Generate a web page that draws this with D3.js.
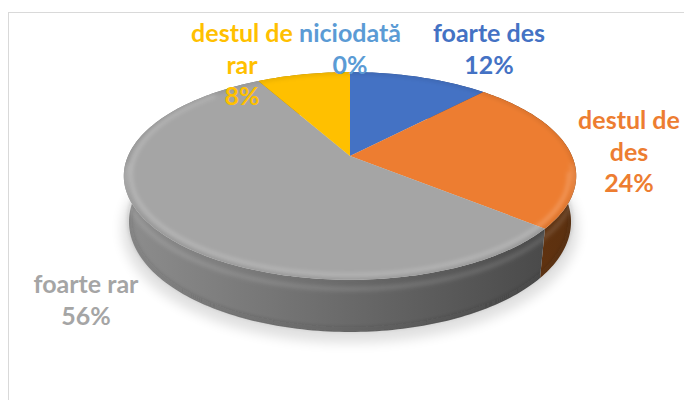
<!DOCTYPE html>
<html>
<head>
<meta charset="utf-8">
<script src="https://cdn.jsdelivr.net/npm/d3@7"></script>
<style>
  body { margin: 0; background: #fff; }
  svg { display: block; }
  .label { font-family: Lato, "Open Sans", sans-serif; font-weight: bold; font-size: 25px; }
</style>
</head>
<body>
<div id="chart"></div>
<script>
// data
const categories = ['foarte des', 'destul de des', 'foarte rar', 'destul de rar', 'niciodată']
const values = [12, 24, 56, 8, 0]
const colors = ['#4472c4', '#ed7d31', '#a5a5a5', '#ffc000', '#5b9bd5']
const sideColors = [['#2f5597', '#22407a'], ['#8f4716', '#5b300f'], ['#8e8e8e', '#444444'], ['#b38700', '#8a6800'], ['#3f73a8', '#2e5680']]
// how Excel wrapped the category names
const labelLines = [['foarte des'], ['destul de', 'des'], ['foarte rar'], ['destul de', 'rar'], ['niciodată']]

// label anchors (centre x, first baseline)
const labelPos = [[489, 42], [629, 129], [86, 293], [242, 42], [350, 42]]

const width = 684, height = 400

// 3D view: perspective projection of a unit disc
const view = {cx: 350, cy: 156, A: 222, B: 100, C: 198, K: 0.192, S: 0.0968, H: 0.233}

function project(a, r, y) {
    let X = r * Math.sin(a), Z = -r * Math.cos(a)
    let den = 1 - view.S * y - view.K * Z
    return [view.cx + view.A * X / den, view.cy + (view.B * Z - view.C * y) / den]
}

function arcPts(a0, a1, r, y) {
    let n = Math.max(2, Math.ceil((a1 - a0) / 0.02))
    return d3.range(n + 1).map(i => project(a0 + (a1 - a0) * i / n, r, y))
}

const svg = d3.select('#chart').append('svg')
    .attr('width', width)
    .attr('height', height)

// chart frame
svg.append('rect')
    .attr('x', 8.5).attr('y', 12.5)
    .attr('width', 720).attr('height', 420)
    .attr('fill', 'none')
    .attr('stroke', '#d9d9d9')

const defs = svg.append('defs')
defs.append('filter').attr('id', 'blur6')
    .attr('x', '-20%').attr('y', '-20%').attr('width', '140%').attr('height', '140%')
    .append('feGaussianBlur').attr('stdDeviation', 6)
defs.append('filter').attr('id', 'blur2')
    .attr('x', '-10%').attr('y', '-10%').attr('width', '120%').attr('height', '120%')
    .append('feGaussianBlur').attr('stdDeviation', 2.2)

sideColors.forEach((c, i) => {
    let g = defs.append('linearGradient')
        .attr('id', 'side' + i)
        .attr('gradientUnits', 'userSpaceOnUse')
        .attr('x1', 120).attr('x2', 580).attr('y1', 0).attr('y2', 0)
    g.append('stop').attr('offset', 0).attr('stop-color', c[0])
    g.append('stop').attr('offset', 0.45).attr('stop-color', d3.interpolateRgb(c[0], c[1])(0.45))
    g.append('stop').attr('offset', 1).attr('stop-color', c[1])
})

const pie = d3.pie().sort(null).value(d => d)
const arcs = pie(values)
const total = d3.sum(values)
const line = d3.line()

const g = svg.append('g')

// soft shadow under the pie
g.append('path')
    .attr('d', line(arcPts(0, 2 * Math.PI, 1.03, -view.H)) + 'Z')
    .attr('transform', 'translate(0,6)')
    .attr('fill', '#000')
    .attr('opacity', 0.12)
    .attr('filter', 'url(#blur6)')

// outer walls
arcs.forEach((d, i) => {
    if (d.endAngle - d.startAngle <= 0) return
    let top = arcPts(d.startAngle, d.endAngle, 1, 0)
    let bottom = arcPts(d.startAngle, d.endAngle, 1, -view.H).reverse()
    g.append('path')
        .attr('d', line(top.concat(bottom)) + 'Z')
        .attr('fill', `url(#side${i})`)
})

// dark line at the bottom edge of the wall
g.append('path')
    .attr('d', line(arcPts(Math.PI / 2, 3 * Math.PI / 2, 0.995, -view.H + 0.01)))
    .attr('fill', 'none')
    .attr('stroke', '#333')
    .attr('stroke-opacity', 0.3)
    .attr('stroke-width', 2)
    .attr('filter', 'url(#blur2)')

// top faces
arcs.forEach((d, i) => {
    if (d.endAngle - d.startAngle <= 0) return
    let pts = [project(0, 0, 0)].concat(arcPts(d.startAngle, d.endAngle, 1, 0))
    g.append('path')
        .attr('d', line(pts) + 'Z')
        .attr('fill', colors[i])
})

// bevel: rounded rim shading
const clip = defs.append('clipPath').attr('id', 'topClip')
clip.append('path').attr('d', line(arcPts(0, 2 * Math.PI, 1, 0)) + 'Z')

g.append('path')
    .attr('d', line(arcPts(0, 2 * Math.PI, 1.0, 0)) + 'Z')
    .attr('fill', 'none')
    .attr('stroke', '#000')
    .attr('stroke-opacity', 0.1)
    .attr('stroke-width', 4)
    .attr('filter', 'url(#blur2)')
    .attr('clip-path', 'url(#topClip)')

g.append('path')
    .attr('d', line(arcPts(Math.PI * 0.55, Math.PI * 1.75, 0.97, 0)))
    .attr('fill', 'none')
    .attr('stroke', '#fff')
    .attr('stroke-opacity', 0.25)
    .attr('stroke-width', 3)
    .attr('filter', 'url(#blur2)')

// highlight at the top of the wall
g.append('path')
    .attr('d', line(arcPts(Math.PI * 0.5, Math.PI * 1.5, 1, -0.04)))
    .attr('fill', 'none')
    .attr('stroke', '#fff')
    .attr('stroke-opacity', 0.15)
    .attr('stroke-width', 4)
    .attr('filter', 'url(#blur2)')

// data labels
const pct = d3.format('.0%')
arcs.forEach((d, i) => {
    let lines = labelLines[i].concat([pct(values[i] / total)])
    let t = svg.append('text')
        .attr('class', 'label')
        .attr('text-anchor', 'middle')
        .attr('fill', colors[i])
    lines.forEach((s, j) => {
        t.append('tspan')
            .attr('x', labelPos[i][0])
            .attr('y', labelPos[i][1] + j * 31.5)
            .text(s)
    })
})
</script>
</body>
</html>
